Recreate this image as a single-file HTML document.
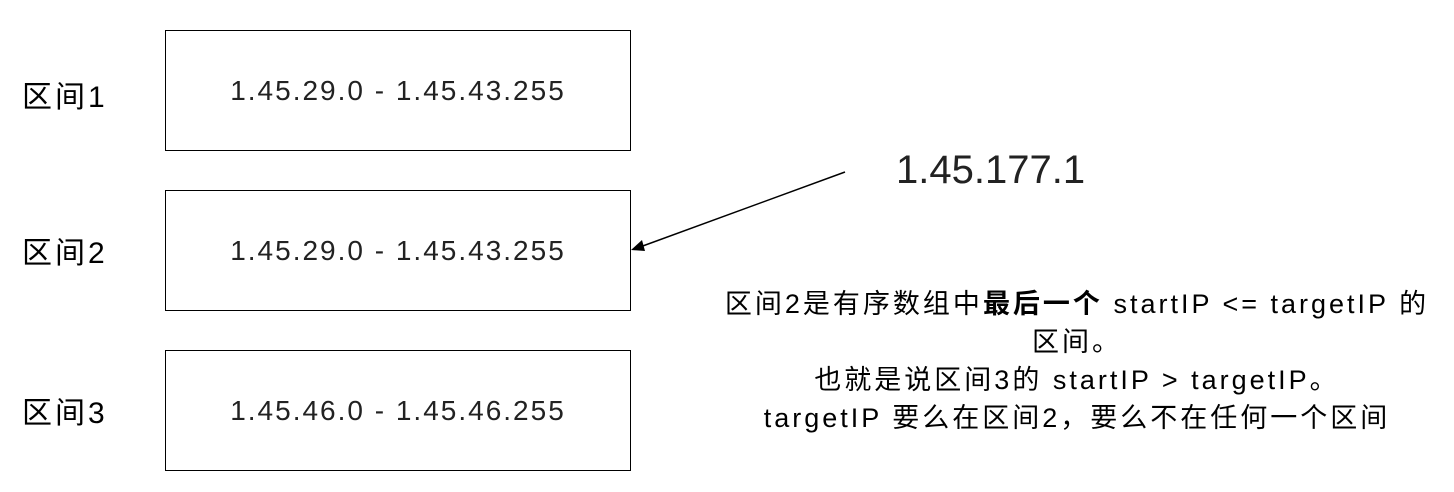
<!DOCTYPE html>
<html><head><meta charset="utf-8"><style>
body{margin:0;width:1454px;height:492px;background:#fff;position:relative;overflow:hidden;font-family:"Liberation Sans","Noto Sans CJK SC",sans-serif;color:#000}
.box{position:absolute;left:165px;width:466px;height:121px;border:1.5px solid #000;box-sizing:border-box;display:flex;align-items:center;justify-content:center;font-size:28px;letter-spacing:2px;color:#222}
.lab{position:absolute;left:22px;font-size:30px;letter-spacing:3px}
.txt{position:absolute;left:677px;width:800px;text-align:center;font-size:27px;letter-spacing:3px;line-height:38px;top:285px}
</style></head><body>
<div class="lab" style="top:72px">区间1</div>
<div class="lab" style="top:228px">区间2</div>
<div class="lab" style="top:388px">区间3</div>
<div class="box" style="top:30px">1.45.29.0 - 1.45.43.255</div>
<div class="box" style="top:190px">1.45.29.0 - 1.45.43.255</div>
<div class="box" style="top:350px">1.45.46.0 - 1.45.46.255</div>
<div style="position:absolute;left:896px;top:148px;font-size:40px;color:#222">1.45.177.1</div>
<svg style="position:absolute;left:0;top:0" width="1454" height="492">
<line x1="845" y1="172" x2="640" y2="247" stroke="#000" stroke-width="1.5"/>
<polygon points="631,250 642,240 645,251" fill="#000"/>
</svg>
<div class="txt">区间2是有序数组中<b>最后一个</b> startIP &lt;= targetIP 的<br>区间。<br>也就是说区间3的 startIP &gt; targetIP。<br>targetIP 要么在区间2，要么不在任何一个区间</div>
</body></html>
